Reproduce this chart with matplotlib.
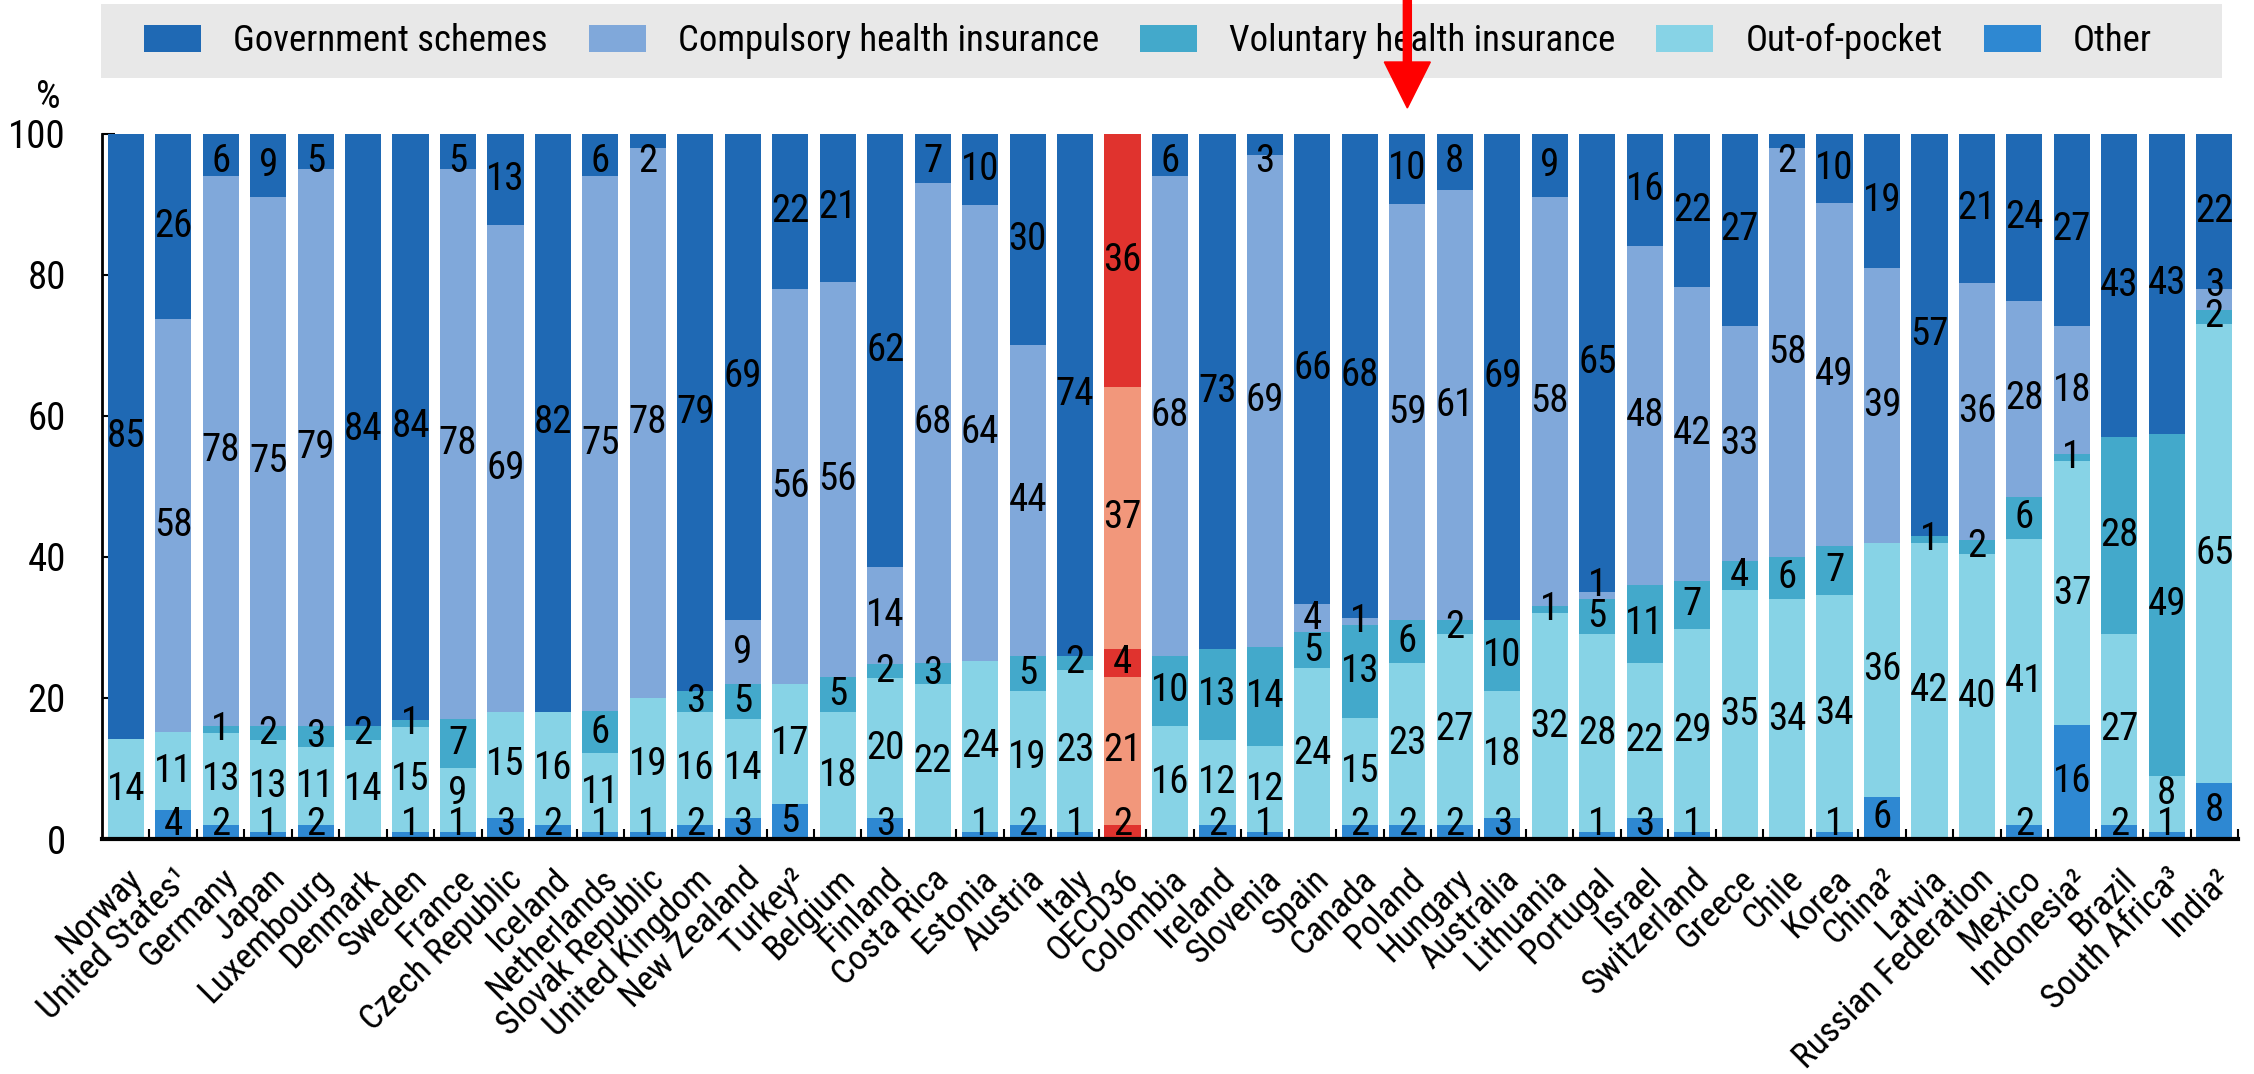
import matplotlib
matplotlib.use('Agg')
import matplotlib.pyplot as plt
from matplotlib import font_manager
from matplotlib.patches import Patch, Rectangle, FancyArrow
from matplotlib.transforms import IdentityTransform
import numpy as np

# a narrow grotesque is closest to the reference lettering
installed = {f.name for f in font_manager.fontManager.ttflist}
family, k = 'Liberation Sans', 0.82
for cand in ['Roboto Condensed', 'Archivo Narrow']:
    if cand in installed:
        family, k = cand, 1.0
        break
plt.rcParams['font.family'] = [family, 'DejaVu Sans']

countries = ['Norway', 'United States¹', 'Germany', 'Japan', 'Luxembourg', 'Denmark', 'Sweden',
             'France', 'Czech Republic', 'Iceland', 'Netherlands', 'Slovak Republic',
             'United Kingdom', 'New Zealand', 'Turkey²', 'Belgium', 'Finland', 'Costa Rica',
             'Estonia', 'Austria', 'Italy', 'OECD36', 'Colombia', 'Ireland', 'Slovenia', 'Spain',
             'Canada', 'Poland', 'Hungary', 'Australia', 'Lithuania', 'Portugal', 'Israel',
             'Switzerland', 'Greece', 'Chile', 'Korea', 'China²', 'Latvia', 'Russian Federation',
             'Mexico', 'Indonesia²', 'Brazil', 'South Africa³', 'India²']

government = [85, 26, 6, 9, 5, 84, 84, 5, 13, 82, 6, 2, 79, 69, 22, 21, 62, 7, 10, 30, 74, 36, 6,
              73, 3, 66, 68, 10, 8, 69, 9, 65, 16, 22, 27, 2, 10, 19, 57, 21, 24, 27, 43, 43, 22]
compulsory = [0, 58, 78, 75, 79, 0, 0, 78, 69, 0, 75, 78, 0, 9, 56, 56, 14, 68, 64, 44, 0, 37, 68,
              0, 69, 4, 1, 59, 61, 0, 58, 1, 48, 42, 33, 58, 49, 39, 0, 36, 28, 18, 0, 0, 3]
voluntary = [0, 0, 1, 2, 3, 2, 1, 7, 0, 0, 6, 0, 3, 5, 0, 5, 2, 3, 0, 5, 2, 4, 10,
             13, 14, 5, 13, 6, 2, 10, 1, 5, 11, 7, 4, 6, 7, 0, 1, 2, 6, 1, 28, 49, 2]
out_of_pocket = [14, 11, 13, 13, 11, 14, 15, 9, 15, 16, 11, 19, 16, 14, 17, 18, 20, 22, 24, 19, 23,
                 21, 16, 12, 12, 24, 15, 23, 27, 18, 32, 28, 22, 29, 35, 34, 34, 36, 42, 40, 41,
                 37, 27, 8, 65]
other = [0, 4, 2, 1, 2, 0, 1, 1, 3, 2, 1, 1, 2, 3, 5, 0, 3, 0, 1, 2, 1, 2, 0,
         2, 1, 0, 2, 2, 2, 3, 0, 1, 3, 1, 0, 0, 1, 6, 0, 0, 2, 16, 2, 1, 8]

series_names = ['Government schemes', 'Compulsory health insurance', 'Voluntary health insurance',
                'Out-of-pocket', 'Other']
blue_colors = ['#1f69b4', '#80a8da', '#43a9cb', '#87d3e6', '#2e88d2']
red_colors = ['#e0332e', '#f2977b', '#e0332e', '#f2977b', '#e0332e']

W, H = 2254, 1074
fig = plt.figure(figsize=(W / 100, H / 100), dpi=100)
ax = fig.add_axes([102 / W, 1 - 839 / H, (2238 - 102) / W, (839 - 133.5) / H])

x = np.arange(len(countries))
oecd_idx = countries.index('OECD36')
bw = 0.76

# stack from the bottom: other, out-of-pocket, voluntary, compulsory, government
stack = [(other, 4), (out_of_pocket, 3), (voluntary, 2), (compulsory, 1), (government, 0)]
totals = np.array(government) + np.array(compulsory) + np.array(voluntary) \
    + np.array(out_of_pocket) + np.array(other)
bottom = np.zeros(len(countries))
labels = [[] for _ in x]   # per bar, bottom-up: (centre, value)
for vals, c in stack:
    vals = np.array(vals, dtype=float)
    h = vals / totals * 100
    cols = [red_colors[c] if i == oecd_idx else blue_colors[c] for i in x]
    ax.bar(x, h, bw, bottom=bottom, color=cols, edgecolor='none', zorder=2)
    for i in x:
        if vals[i] > 0:
            labels[i].append((bottom[i] + h[i] / 2, int(vals[i])))
    bottom += h

# value labels, nudged up so that small neighbouring segments do not collide
gap = 4.4
for i in x:
    prev = -10
    for yc, v in labels[i]:
        yc = max(yc, 2.0, prev + gap)
        yc = min(yc, 96.0)
        ax.text(i, yc, str(v), ha='center', va='center', fontsize=28 * k,
                color='black', zorder=3)
        prev = yc

ax.set_xlim(-0.5, len(countries) - 0.5)
ax.set_ylim(0, 100)
ax.set_yticks([0, 20, 40, 60, 80, 100])
ax.tick_params(axis='y', direction='in', length=9.5, width=1.5, labelsize=28 * k, pad=26)
ax.set_xticks(x)
ax.set_xticklabels(countries, rotation=45, ha='right', rotation_mode='anchor', fontsize=25.5 * k)
ax.tick_params(axis='x', which='major', length=0, pad=17)
ax.set_xticks(np.arange(0.5, len(countries), 1), minor=True)
ax.tick_params(axis='x', which='minor', direction='in', length=7, width=1.5)
for s in ['top', 'right']:
    ax.spines[s].set_visible(False)
ax.spines['left'].set_linewidth(2)
ax.spines['bottom'].set_linewidth(3)

fig.text(48 / W, 1 - 98 / H, '%', ha='center', va='center', fontsize=28 * k)

# legend band
fig.patches.append(Rectangle((101 / W, 1 - 78 / H), (2222 - 101) / W, 74 / H,
                             transform=fig.transFigure, facecolor='#e8e8e8',
                             edgecolor='none', zorder=0))
handles = [Patch(facecolor=col, edgecolor='none') for col in blue_colors]
fs_leg = 26.5 * k
em = fs_leg * 100 / 72
fig.legend(handles, series_names, loc='center left', bbox_to_anchor=(144 / W, 1 - 41 / H),
           ncol=5, frameon=False, fontsize=fs_leg, handlelength=57 / em, handleheight=28 / em,
           handletextpad=32 / em, columnspacing=41 / em, borderpad=0, borderaxespad=0)

# red arrow pointing at Poland
px = ax.transData.transform((countries.index('Poland'), 0))[0]
arrow = FancyArrow(px, H, 0, -108, width=8, head_width=46, head_length=46,
                   length_includes_head=True, color='#ff0000', transform=IdentityTransform(),
                   zorder=10)
fig.add_artist(arrow)

fig.savefig('out.png', dpi=100)
